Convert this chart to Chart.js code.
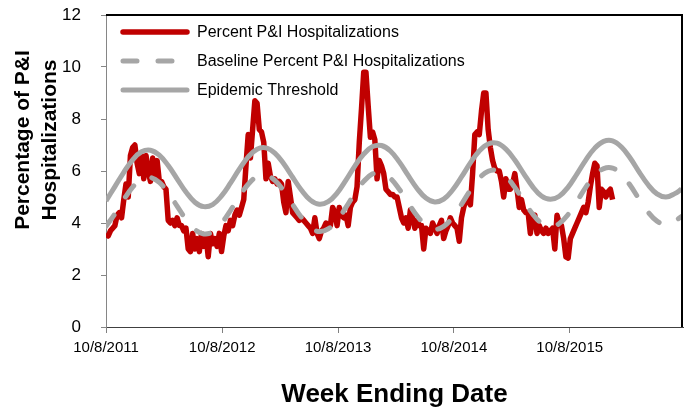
<!DOCTYPE html>
<html>
<head>
<meta charset="utf-8">
<script src="https://cdn.jsdelivr.net/npm/chart.js@4"></script>
<style>
  html, body { margin: 0; padding: 0; background: #fff; }
  #chart { width: 688px; height: 408px; }
</style>
</head>
<body>
<div id="chart"><canvas id="c" width="688" height="408"></canvas></div>
<script>
// weekly percent P&I, week 0 = 10/8/2011
const pctPI = [
  3.6, 3.5, 3.7, 3.8, 3.9, 4.3, 4.4, 4.2, 4.9, 5.5,
  5.0, 6.6, 6.9, 7.0, 6.3, 5.9, 6.6, 5.7, 6.6, 6.0,
  5.6, 6.5, 5.8, 6.4, 5.6, 5.6, 5.4, 5.3, 4.1, 4.0,
  4.1, 3.9, 4.2, 3.9, 3.9, 3.7, 3.8, 3.0, 2.9, 3.6,
  3.0, 3.4, 2.9, 3.6, 3.1, 3.5, 2.7, 3.6, 3.2, 3.4,
  3.1, 3.6, 2.9, 3.5, 3.9, 3.7, 4.1, 3.9, 4.3, 4.5,
  4.3, 4.6, 4.9, 6.2, 7.4, 6.5, 7.6, 8.7, 8.6, 7.6,
  7.5, 7.1, 5.7, 6.3, 5.8, 5.6, 5.7, 5.5, 5.6, 5.5,
  4.8, 4.4, 5.6, 5.0, 4.4, 4.3, 4.2, 4.1, 4.2, 4.1,
  4.0, 3.9, 3.8, 3.6, 4.2, 3.6, 3.4, 3.7, 3.8, 4.0,
  3.9, 3.9, 4.6, 4.4, 3.9, 4.6, 4.3, 4.2, 4.3, 3.9,
  4.6, 4.8, 4.9, 5.4, 7.1, 8.4, 9.8, 9.8, 8.5, 7.3,
  7.5, 7.2, 5.7, 6.4, 6.2, 5.9, 5.3, 5.2, 5.1, 5.1,
  5.0, 5.0, 4.6, 4.2, 4.0, 4.2, 3.8, 4.5, 4.2, 3.8,
  4.1, 3.9, 3.9, 3.0, 3.8, 3.7, 3.6, 4.0, 3.8, 3.6,
  3.9, 4.1, 3.4, 3.7, 3.9, 4.2, 4.0, 3.9, 3.8, 3.3,
  4.2, 4.6, 4.9, 4.9, 4.7, 5.9, 7.4, 7.5, 7.4, 8.3,
  9.0, 9.0, 7.6, 6.9, 6.4, 6.1, 6.0, 6.0, 5.6, 5.0,
  5.7, 5.3, 5.3, 5.5, 5.9, 5.3, 4.6, 4.9, 4.5, 4.4,
  4.4, 3.6, 4.2, 4.3, 3.6, 3.9, 3.7, 3.6, 3.8, 3.6,
  3.7, 3.8, 3.0, 4.3, 4.0, 3.9, 3.4, 2.7, 2.65, 3.4,
  3.6, 3.8, 4.0, 4.2, 4.4, 4.6, 4.4, 4.8, 5.4, 5.9,
  6.3, 6.2, 4.6, 5.3, 5.2, 5.0, 5.2, 5.3, 4.9
];

// baseline and threshold, read every 4 weeks
const curveWeeks = [
  0, 4, 8, 12, 16, 20, 24, 28, 32, 36, 40, 44, 48, 52, 56, 60, 64, 68, 72, 76,
  80, 84, 88, 92, 96, 100, 104, 108, 112, 116, 120, 124, 128, 132, 136, 140,
  144, 148, 152, 156, 160, 164, 168, 172, 176, 180, 184, 188, 192, 196, 200,
  204, 208, 212, 216, 220, 224, 228, 232, 236, 240, 244, 248, 252, 256, 259
];
const baseline = [
  3.87, 4.35, 4.90, 5.38, 5.69, 5.75, 5.56, 5.16, 4.65, 4.14,
  3.75, 3.58, 3.66, 3.99, 4.48, 5.02, 5.49, 5.79, 5.84, 5.64,
  5.23, 4.71, 4.21, 3.83, 3.67, 3.77, 4.10, 4.60, 5.14, 5.60,
  5.89, 5.93, 5.72, 5.30, 4.78, 4.28, 3.91, 3.76, 3.87, 4.22,
  4.72, 5.26, 5.72, 5.99, 6.02, 5.79, 5.37, 4.85, 4.35, 3.99,
  3.86, 3.98, 4.33, 4.84, 5.38, 5.83, 6.09, 6.11, 5.87, 5.44,
  4.91, 4.42, 4.07, 3.95, 4.08, 4.25
];
const threshold = [
  4.85, 5.40, 5.95, 6.43, 6.74, 6.80, 6.61, 6.21, 5.70, 5.19,
  4.80, 4.63, 4.71, 5.04, 5.53, 6.07, 6.54, 6.84, 6.89, 6.69,
  6.28, 5.76, 5.26, 4.88, 4.72, 4.82, 5.15, 5.65, 6.19, 6.65,
  6.94, 6.98, 6.77, 6.35, 5.83, 5.33, 4.96, 4.81, 4.92, 5.27,
  5.77, 6.31, 6.77, 7.04, 7.07, 6.84, 6.42, 5.90, 5.40, 5.04,
  4.91, 5.03, 5.38, 5.89, 6.43, 6.88, 7.14, 7.16, 6.92, 6.49,
  5.96, 5.47, 5.12, 5.00, 5.13, 5.30
];

const seriesNames = ["Percent P&I Hospitalizations", "Baseline Percent P&I Hospitalizations", "Epidemic Threshold"];
const tickWeeks = [0, 52.29, 104.43, 156.57, 208.71];
const tickLabels = ["10/8/2011", "10/8/2012", "10/8/2013", "10/8/2014", "10/8/2015"];
const yTitle = ["Percentage of P&I", "Hospitalizations"];
const xTitle = "Week Ending Date";

const FONT = "'Liberation Sans', Arial, sans-serif";

// legend in the top left of the plot, frame lines, y title
const extras = {
  id: "extras",
  afterDraw(chart) {
    let ctx = chart.ctx;
    let a = chart.chartArea;
    ctx.save();

    // top and right frame of the plot area
    ctx.strokeStyle = "#000";
    ctx.lineWidth = 2;
    ctx.setLineDash([]);
    ctx.beginPath();
    ctx.moveTo(a.left, a.top);
    ctx.lineTo(a.right - 1, a.top);
    ctx.lineTo(a.right - 1, a.bottom);
    ctx.stroke();

    ctx.font = "16px " + FONT;
    ctx.fillStyle = "#000";
    ctx.textBaseline = "middle";
    ctx.textAlign = "left";
    chart.data.datasets.forEach((ds, i) => {
      let y = 32 + i * 29;
      ctx.strokeStyle = ds.borderColor;
      ctx.lineWidth = ds.borderWidth;
      ctx.lineCap = "round";
      ctx.setLineDash(ds.borderDash || []);
      ctx.beginPath();
      ctx.moveTo(123, y);
      ctx.lineTo(ds.borderDash ? 172 : 187, y);
      ctx.stroke();
      ctx.setLineDash([]);
      ctx.fillText(ds.label, 197, y + 1);
    });

    ctx.font = "bold 21px " + FONT;
    ctx.textAlign = "center";
    ctx.translate(0, 140);
    ctx.rotate(-Math.PI / 2);
    ctx.fillText(yTitle[0], 0, 23);
    ctx.fillText(yTitle[1], 0, 50);
    ctx.restore();
  }
};

new Chart(document.getElementById("c"), {
  type: "line",
  data: {
    datasets: [
      {
        label: seriesNames[0],
        data: pctPI.map((v, i) => ({ x: i, y: v })),
        borderColor: "#C00000",
        borderWidth: 5.5,
        borderJoinStyle: "round",
        pointRadius: 0,
        tension: 0,
        order: 3
      },
      {
        label: seriesNames[1],
        data: curveWeeks.map((w, i) => ({ x: w, y: baseline[i] })),
        borderColor: "#A6A6A6",
        borderWidth: 5,
        borderDash: [14, 21],
        borderCapStyle: "round",
        pointRadius: 0,
        tension: 0.4,
        order: 2
      },
      {
        label: seriesNames[2],
        data: curveWeeks.map((w, i) => ({ x: w, y: threshold[i] })),
        borderColor: "#A6A6A6",
        borderWidth: 5,
        pointRadius: 0,
        tension: 0.4,
        order: 1
      }
    ]
  },
  options: {
    responsive: false,
    animation: false,
    layout: { padding: { top: 15, right: 5, left: 0, bottom: 0 } },
    plugins: { legend: { display: false }, tooltip: { enabled: false } },
    scales: {
      x: {
        type: "linear",
        min: 0,
        max: 259.7,
        afterBuildTicks: (scale) => { scale.ticks = tickWeeks.map(v => ({ value: v })); },
        afterFit: (scale) => { scale.height = 81; },
        ticks: {
          autoSkip: false,
          maxRotation: 0,
          padding: 6,
          color: "#000",
          font: { family: FONT, size: 15 },
          callback: (v, i) => tickLabels[i]
        },
        grid: { drawOnChartArea: false, drawTicks: true, tickLength: 6, color: "#808080" },
        border: { color: "#404040", width: 1 },
        title: {
          display: true,
          text: xTitle,
          color: "#000",
          font: { family: FONT, size: 26, weight: "bold" },
          padding: { top: 0, bottom: -2 }
        }
      },
      y: {
        min: 0,
        max: 12,
        afterFit: (scale) => { scale.width = 106; scale.paddingTop = 0; scale.paddingBottom = 0; },
        ticks: {
          stepSize: 2,
          padding: 20,
          color: "#000",
          font: { family: FONT, size: 17 }
        },
        grid: { drawOnChartArea: false, drawTicks: true, tickLength: 5, color: "#868686" },
        border: { color: "#868686", width: 1 }
      }
    }
  },
  plugins: [extras]
});
</script>
</body>
</html>
